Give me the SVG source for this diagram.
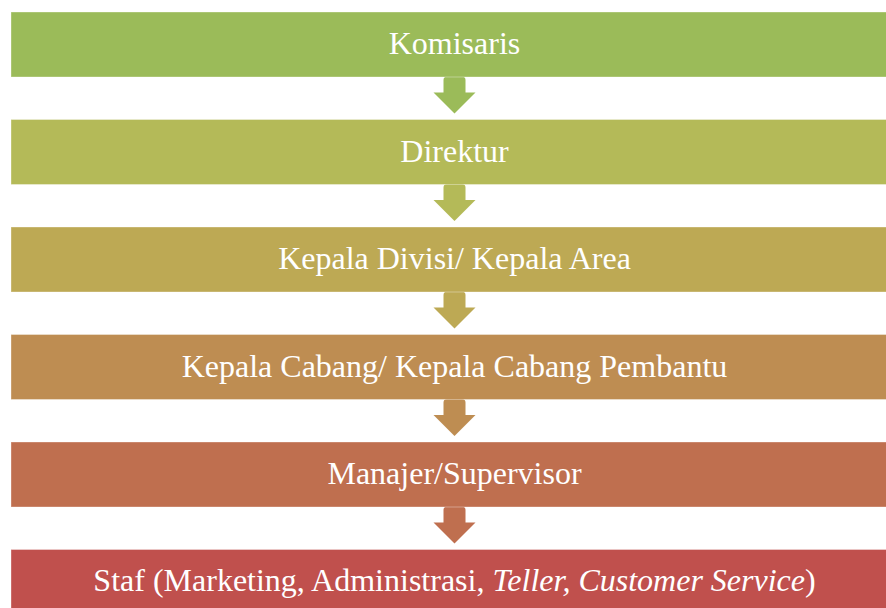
<svg xmlns="http://www.w3.org/2000/svg" width="886" height="608" viewBox="0 0 886 608">
<style>
.box{stroke:#ffffff;stroke-opacity:0.35;stroke-width:1}
.lbl{font-family:"Liberation Serif","Times New Roman",serif;font-size:32px;fill:#ffffff;text-anchor:middle}
.it{font-style:italic}
</style>
<defs>
<path id="arr" d="M443.5,80 Q443.5,76.5 447,76.5 L462,76.5 Q465.5,76.5 465.5,80 L465.5,92.5 L475.5,92.5 L454.5,113.5 L433.5,92.5 L443.5,92.5 Z"/>
</defs>
<rect width="886" height="608" fill="#ffffff"/>
<g id="connectors">
<use href="#arr" fill="#9BBB59"/>
<use href="#arr" fill="#B4BA58" transform="translate(0,107.5)"/>
<use href="#arr" fill="#BDA954" transform="translate(0,215)"/>
<use href="#arr" fill="#BE8D52" transform="translate(0,322.5)"/>
<use href="#arr" fill="#BF6F4F" transform="translate(0,430)"/>
</g>
<g id="komisaris">
<rect class="box" x="11" y="12" width="890" height="65" fill="#9BBB59"/>
<text class="lbl" x="454.5" y="54">Komisaris</text>
</g>
<g id="direktur">
<rect class="box" x="11" y="119.5" width="890" height="65" fill="#B4BA58"/>
<text class="lbl" x="454.5" y="161.5">Direktur</text>
</g>
<g id="kepala-divisi">
<rect class="box" x="11" y="227" width="890" height="65" fill="#BDA954"/>
<text class="lbl" x="454.5" y="269">Kepala Divisi/ Kepala Area</text>
</g>
<g id="kepala-cabang">
<rect class="box" x="11" y="334.5" width="890" height="65" fill="#BE8D52"/>
<text class="lbl" x="454.5" y="376.5">Kepala Cabang/ Kepala Cabang Pembantu</text>
</g>
<g id="manajer">
<rect class="box" x="11" y="442" width="890" height="65" fill="#BF6F4F"/>
<text class="lbl" x="454.5" y="484">Manajer/Supervisor</text>
</g>
<g id="staf">
<rect class="box" x="11" y="549.5" width="890" height="65" fill="#C0504D"/>
<text class="lbl" x="454.5" y="591">Staf (Marketing, Administrasi, <tspan class="it">Teller, Customer Service</tspan>)</text>
</g>
</svg>
